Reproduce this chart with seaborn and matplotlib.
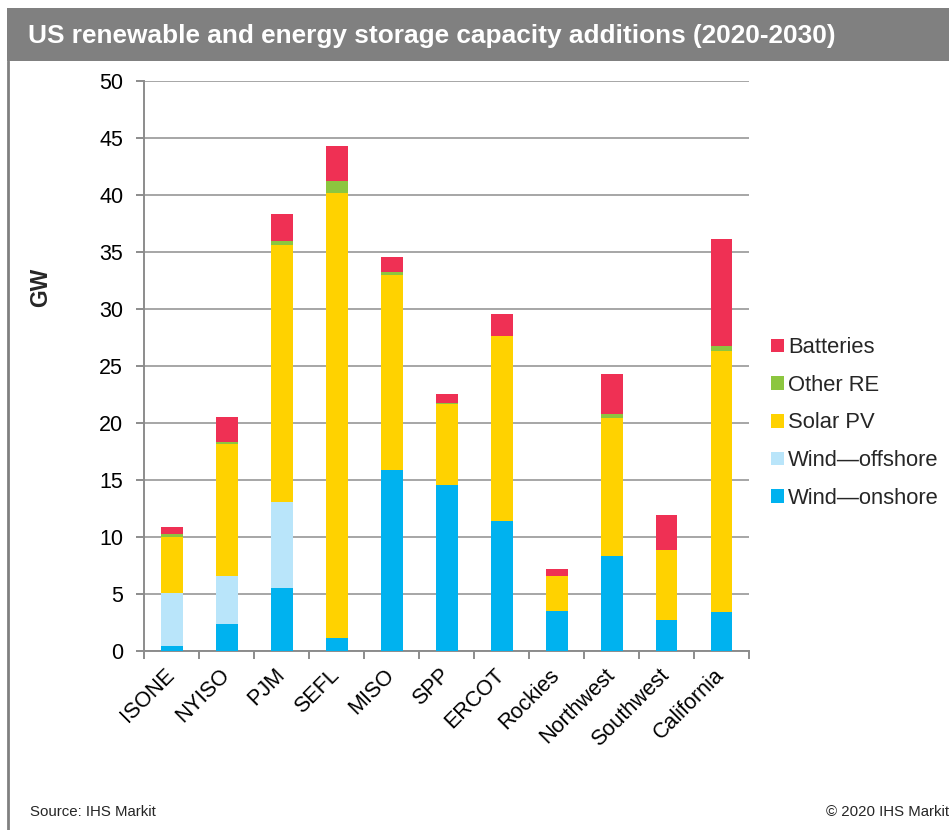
import matplotlib
matplotlib.use("Agg")
import matplotlib.pyplot as plt
from matplotlib.patches import Patch, Rectangle
from matplotlib.lines import Line2D
import numpy as np
import seaborn as sns

# Capacity additions 2020-2030, GW
regions = ["ISONE", "NYISO", "PJM", "SEFL", "MISO", "SPP", "ERCOT",
           "Rockies", "Northwest", "Southwest", "California"]
wind_onshore = [0.4, 2.4, 5.5, 1.1, 15.9, 14.6, 11.4, 3.5, 8.3, 2.7, 3.4]
wind_offshore = [4.7, 4.2, 7.6, 0.0, 0.0, 0.0, 0.0, 0.0, 0.0, 0.0, 0.0]
solar_pv = [4.9, 11.6, 22.5, 39.1, 17.1, 7.1, 16.2, 3.1, 12.1, 6.2, 22.9]
other_re = [0.25, 0.1, 0.4, 1.0, 0.25, 0.05, 0.05, 0.0, 0.4, 0.0, 0.45]
batteries = [0.65, 2.2, 2.3, 3.1, 1.3, 0.8, 1.9, 0.55, 3.5, 3.0, 9.4]

series = ["Wind—onshore", "Wind—offshore", "Solar PV", "Other RE", "Batteries"]
values = [wind_onshore, wind_offshore, solar_pv, other_re, batteries]
colors = ["#00B2EF", "#B9E5FA", "#FFD200", "#8CC63F", "#EF3054"]

sns.set_theme(style="white")
plt.rcParams["font.family"] = ["Liberation Sans", "DejaVu Sans"]

fig = plt.figure(figsize=(9.49, 8.3), dpi=100)
ax = fig.add_axes([144 / 949, 179 / 830, 605 / 949, 570 / 830])

# stacked bars: draw cumulative totals from the top segment down
cum = np.cumsum(np.array(values, dtype=float), axis=0)
for i in range(len(series) - 1, -1, -1):
    sns.barplot(x=regions, y=cum[i], order=regions, color=colors[i],
                saturation=1, width=0.4, linewidth=0, ax=ax, zorder=3)

ax.set_xlim(-0.5, len(regions) - 0.5)
ax.set_ylim(0, 50)
ax.set_yticks(np.arange(0, 51, 5))
ax.yaxis.grid(True, color="#A6A6A6", linewidth=1.4, zorder=0)
ax.set_axisbelow(True)

for s in ["top", "right"]:
    ax.spines[s].set_visible(False)
for s in ["left", "bottom"]:
    ax.spines[s].set_color("#8C8C8C")
    ax.spines[s].set_linewidth(1.4)

ax.tick_params(axis="y", which="major", left=True, direction="out",
               length=6, width=1.4, color="#8C8C8C", labelsize=15.5,
               labelcolor="black", pad=9)
ax.set_xticks(np.arange(len(regions)))
ax.set_xticklabels(regions, rotation=45, ha="right", va="center",
                   rotation_mode="anchor", fontsize=15.5, color="black")
ax.tick_params(axis="x", which="major", bottom=False, length=0, pad=15)
ax.set_xticks(np.arange(-0.5, len(regions)), minor=True)
ax.tick_params(axis="x", which="minor", bottom=True, direction="out",
               length=6, width=1.4, color="#8C8C8C")
ax.set_xlabel("")
ax.set_ylabel("")
fig.text(41 / 949, 1 - 287 / 830, "GW", rotation=90, fontsize=16.5,
         fontweight="bold", ha="center", va="center")

# legend, top entry first
handles = [Patch(facecolor=colors[i], edgecolor="none", label=series[i])
           for i in range(len(series) - 1, -1, -1)]
fig.legend(handles=handles, loc="center left",
           bbox_to_anchor=(771 / 949, 1 - 423 / 830), frameon=False,
           fontsize=15.8, handlelength=0.57, handleheight=0.57,
           handletextpad=0.2, labelspacing=0.76, borderaxespad=0,
           borderpad=0)

# title band and frame line
fig.patches.append(Rectangle((7 / 949, 1 - 61 / 830), 942 / 949, 53 / 830,
                             transform=fig.transFigure, facecolor="#808080",
                             edgecolor="none", zorder=0))
fig.lines.append(Line2D([8 / 949, 8 / 949], [0, 1 - 61 / 830],
                        transform=fig.transFigure, color="#808080",
                        linewidth=2))
fig.text(28 / 949, 1 - 36 / 830,
         "US renewable and energy storage capacity additions (2020-2030)",
         color="white", fontsize=18.9, fontweight="bold", va="center",
         ha="left")

fig.text(30 / 949, 1 - 812 / 830, "Source: IHS Markit", fontsize=10.8,
         va="center", ha="left")
fig.text(949 / 949, 1 - 812 / 830, "© 2020 IHS Markit", fontsize=10.8,
         va="center", ha="right")

fig.savefig("out.png", dpi=100, facecolor="white")
